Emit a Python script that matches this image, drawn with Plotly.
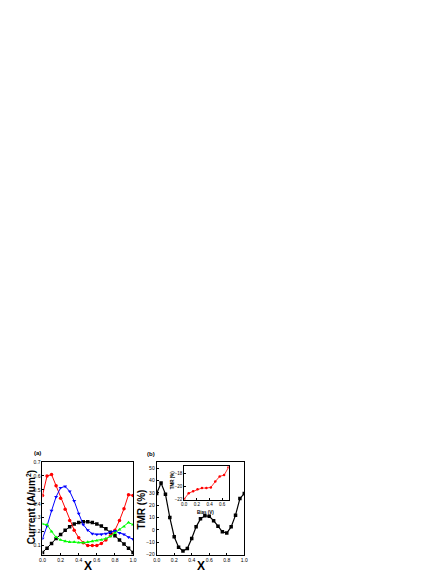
import plotly.graph_objects as go

W, H = 447, 578

# ---- data -------------------------------------------------------------
x_vals = [0.0, 0.05, 0.1, 0.15, 0.2, 0.25, 0.3, 0.35, 0.4, 0.45, 0.5,
          0.55, 0.6, 0.65, 0.7, 0.75, 0.8, 0.85, 0.9, 0.95, 1.0]

cur_black = [0.05, 0.08, 0.115, 0.15, 0.18, 0.21, 0.235, 0.255, 0.265, 0.27, 0.27,
             0.265, 0.255, 0.24, 0.22, 0.195, 0.17, 0.14, 0.11, 0.08, 0.05]
cur_red = [0.46, 0.60, 0.61, 0.53, 0.44, 0.36, 0.28, 0.21, 0.155, 0.12, 0.10,
           0.10, 0.10, 0.115, 0.14, 0.17, 0.21, 0.28, 0.365, 0.465, 0.46]
cur_blue = [0.15, 0.24, 0.35, 0.45, 0.515, 0.525, 0.49, 0.42, 0.33, 0.25, 0.21,
            0.185, 0.18, 0.18, 0.185, 0.195, 0.205, 0.19, 0.18, 0.16, 0.145]
cur_green = [0.255, 0.25, 0.20, 0.16, 0.14, 0.13, 0.125, 0.125, 0.12, 0.12, 0.125,
             0.13, 0.135, 0.14, 0.15, 0.165, 0.19, 0.215, 0.235, 0.265, 0.25]

tmr = [29.5, 38, 29, 10, -5.5, -14, -17, -15, -7, 2.5, 9,
       11.5, 11, 7.5, 3, -1.5, -2.5, 2.5, 12, 25.5, 29.5]

bias = [0.0, 0.07, 0.14, 0.21, 0.28, 0.35, 0.42, 0.49, 0.56, 0.63, 0.70]
tmr_bias = [-22.0, -21.1, -20.8, -20.5, -20.3, -20.3, -20.2, -19.3, -18.5, -18.3, -17.1]

# ---- helpers ----------------------------------------------------------
def px_x(a, b):
    return [a / W, b / W]

def px_y(top, bottom):
    return [(H - bottom) / H, (H - top) / H]

FONT = "Arial, Liberation Sans, sans-serif"
tickfont = dict(family=FONT, size=5, color="black")

def axis_style(**kw):
    d = dict(showline=True, linecolor="black", linewidth=1, mirror=True,
             ticks="inside", ticklen=2, tickcolor="black", showgrid=False,
             zeroline=False, tickfont=tickfont)
    d.update(kw)
    return d

fig = go.Figure()

# panel (a)
for ys, col, sym in [(cur_black, "black", "square"),
                     (cur_red, "red", "circle"),
                     (cur_blue, "blue", "triangle-down"),
                     (cur_green, "#00ff00", "triangle-up")]:
    fig.add_trace(go.Scatter(x=x_vals, y=ys, mode="lines+markers",
                             line=dict(color=col, width=1),
                             marker=dict(color=col, symbol=sym, size=3.5),
                             xaxis="x", yaxis="y", showlegend=False))

# panel (b)
fig.add_trace(go.Scatter(x=x_vals, y=tmr, mode="lines+markers",
                         line=dict(color="black", width=1.2),
                         marker=dict(color="black", symbol="square", size=3.5),
                         xaxis="x2", yaxis="y2", showlegend=False))

# inset
fig.add_trace(go.Scatter(x=bias, y=tmr_bias, mode="lines+markers",
                         line=dict(color="red", width=0.8),
                         marker=dict(color="red", symbol="circle", size=2.5),
                         xaxis="x3", yaxis="y3", showlegend=False))

fig.update_layout(
    width=W, height=H,
    margin=dict(l=0, r=0, t=0, b=0),
    paper_bgcolor="white", plot_bgcolor="white",
    xaxis=axis_style(domain=px_x(32, 124), range=[0, 1.0], dtick=0.2,
                     tickformat=".1f", anchor="y"),
    yaxis=axis_style(domain=px_y(455, 549), range=[0.03, 0.7], dtick=0.1,
                     tickformat=".1f", anchor="x"),
    xaxis2=axis_style(domain=px_x(148, 237), range=[0, 1.0], dtick=0.2,
                      tickformat=".1f", anchor="y2"),
    yaxis2=axis_style(domain=px_y(455, 549), range=[-20.5, 55], dtick=10,
                      anchor="x2"),
    xaxis3=axis_style(domain=px_x(176, 221), range=[0, 0.7], dtick=0.2,
                      tickformat=".1f", anchor="y3",
                      tickfont=dict(family=FONT, size=4.5, color="black")),
    yaxis3=axis_style(domain=px_y(459, 493), range=[-22.1, -16.9], dtick=2,
                      anchor="x3",
                      tickfont=dict(family=FONT, size=4.5, color="black")),
)

def label(text, x, y, size, angle=0):
    fig.add_annotation(text=text, x=x / W, y=1 - y / H, xref="paper", yref="paper",
                       showarrow=False, textangle=angle,
                       font=dict(family=FONT, size=size, color="black"),
                       xanchor="center", yanchor="middle")

label("<b>(a)</b>", 27, 446, 6)
label("<b>(b)</b>", 142, 447, 6)
label("<b>Current (A/um<sup>2</sup>)</b>", 20, 501, 10, angle=-90)
label("<b>X</b>", 78, 560, 12)
label("<b>TMR (%)</b>", 133, 503, 10, angle=-90)
label("<b>X</b>", 193, 560, 12)
label("<b>TMR (%)</b>", 164, 473, 4.5, angle=-90)
label("<b>Bias (V)</b>", 198, 506, 4.5)

fig.write_html("out.html")
